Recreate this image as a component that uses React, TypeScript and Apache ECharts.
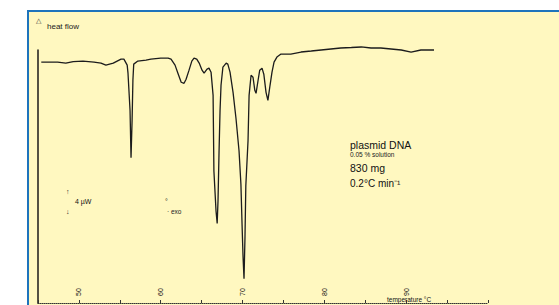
import React, { useEffect, useRef } from "react";
import * as echarts from "echarts";

// Temperature (°C) and heat flow (µW, relative)
const temperatures = [
  45.4, 46.6, 47.4, 48.4, 49.3, 50.5, 51.85, 52.7, 53.3, 54.2, 55.15, 55.5, 55.9, 56.0, 56.25, 56.37, 56.5, 56.6, 56.7,
  57.2, 58.2, 58.8, 60.0, 60.9, 61.26, 61.75, 62.1, 62.5, 62.85, 63.1, 63.46, 63.8, 64.07, 64.4, 64.7, 65.05, 65.3,
  65.66, 65.9, 66.15, 66.4, 66.5, 66.76, 66.9, 67.0, 67.13, 67.25, 67.37, 67.6, 68.0, 68.2, 68.47, 68.84, 69.2, 69.57,
  69.8, 69.94, 70.06, 70.18, 70.3, 70.4, 70.67, 70.8, 71.04, 71.28, 71.5, 71.65, 71.9, 72.1, 72.38, 72.6, 72.87, 73.1,
  73.36, 73.6, 73.85, 74.2, 74.7, 75.9, 77.15, 78.4, 79.6, 80.8, 82.0, 83.3, 84.5, 85.7, 86.9, 88.15, 89.4, 90.6,
  91.8, 93.4,
];
const heatFlow = [
  -0.2, -0.2, -0.2, -0.4, -0.1, 0, -0.2, -0.4, -0.8, -0.4, 0.4, 0.4, -0.8, -2.4, -9.8, -19.2, -11.8, -3.8, -0.6,
  0, 0.2, 0.4, 0.6, 0.6, 0.4, -0.8, -2.4, -4.2, -4.4, -3.6, -1.8, 0, 0.6, 0.4, -0.4, -1.8, -2.4,
  -1.6, -1.4, -2.2, -6.8, -21.8, -29.8, -32.2, -27.8, -17.8, -9.8, -4.8, -1.2, -0.4, -0.6, -2.2, -6.2, -11.4, -17.8,
  -24.4, -32.4, -38.8, -43.2, -34.8, -24.8, -15.8, -6.8, -2.8, -3.2, -5.8, -6.4, -3.8, -1.8, -1.4, -2.6, -6.2, -7.8,
  -4.8, -2.2, -0.2, 0.8, 1.4, 1.4, 1.8, 2.0, 2.2, 2.4, 2.6, 2.7, 2.8, 2.6, 2.6, 2.4, 2.2, 1.8,
  2.2, 2.2,
];
const tickLabels = [50, 60, 70, 80, 90];
const annotationLines = ["plasmid DNA", "0.05 % solution", "830 mg", "0.2°C min⁻¹"];

const FONT = "'Liberation Sans', Arial, sans-serif";

export default function App() {
  const ref = useRef<HTMLDivElement>(null);
  useEffect(() => {
    if (!ref.current) return;
    const chart = echarts.init(ref.current, undefined, { renderer: "svg" });
    const data = temperatures.map((t, i) => [t, heatFlow[i]]);
    chart.setOption({
      animation: false,
      backgroundColor: "#ffffff",
      graphic: [
        {
          type: "rect",
          z: -100,
          shape: { x: 28, y: 11, width: 560, height: 320 },
          style: { fill: "#FFF8C0", stroke: "#1E74BC", lineWidth: 2 },
        },
        { type: "text", x: 36, y: 17, style: { text: "△", font: `7px ${FONT}`, fill: "#333" } },
        { type: "text", x: 47, y: 22, style: { text: "heat flow", font: `8px ${FONT}`, fill: "#222" } },
        { type: "text", x: 350, y: 139, style: { text: annotationLines[0], font: `10.5px ${FONT}`, fill: "#111" } },
        { type: "text", x: 350, y: 151, style: { text: annotationLines[1], font: `6.5px ${FONT}`, fill: "#222" } },
        { type: "text", x: 350, y: 162, style: { text: annotationLines[2], font: `10.5px ${FONT}`, fill: "#111" } },
        { type: "text", x: 350, y: 178, style: { text: annotationLines[3], font: `10px ${FONT}`, fill: "#111" } },
        { type: "text", x: 66, y: 188, style: { text: "↑", font: `7px ${FONT}`, fill: "#222" } },
        { type: "text", x: 75, y: 198, style: { text: "4 µW", font: `7px ${FONT}`, fill: "#111" } },
        { type: "text", x: 66, y: 208, style: { text: "↓", font: `7px ${FONT}`, fill: "#222" } },
        { type: "text", x: 165, y: 198, style: { text: "°", font: `7px ${FONT}`, fill: "#222" } },
        { type: "text", x: 167, y: 208, style: { text: "· exo", font: `6.5px ${FONT}`, fill: "#222" } },
        { type: "text", x: 387, y: 296, style: { text: "temperature °C", font: `6.5px ${FONT}`, fill: "#111" } },
      ],
      grid: { left: 38, top: 50, width: 450, height: 253 },
      xAxis: {
        type: "value",
        min: 45,
        max: 100,
        interval: 5,
        axisLine: { show: true, onZero: false, lineStyle: { color: "#333", width: 1, type: "dotted" } },
        axisTick: { show: true, inside: true, length: 3, lineStyle: { color: "#333" } },
        axisLabel: {
          inside: true,
          rotate: 90,
          margin: 7,
          fontSize: 7,
          fontFamily: FONT,
          color: "#111",
          formatter: (v: number) => (tickLabels.indexOf(v) >= 0 ? String(v) : ""),
        },
        splitLine: { show: false },
      },
      yAxis: {
        type: "value",
        min: -48,
        max: 2.2,
        axisLine: { show: true, onZero: false, lineStyle: { color: "#1a1a1a", width: 1.5 } },
        axisTick: { show: false },
        axisLabel: { show: false },
        splitLine: { show: false },
      },
      series: [
        {
          type: "line",
          data,
          showSymbol: false,
          clip: false,
          lineStyle: { color: "#1c1c1c", width: 1.3 },
        },
      ],
    });
    return () => chart.dispose();
  }, []);
  return (
    <div
      ref={ref}
      style={{ position: "fixed", left: 0, top: 0, width: 559, height: 305 }}
    />
  );
}
